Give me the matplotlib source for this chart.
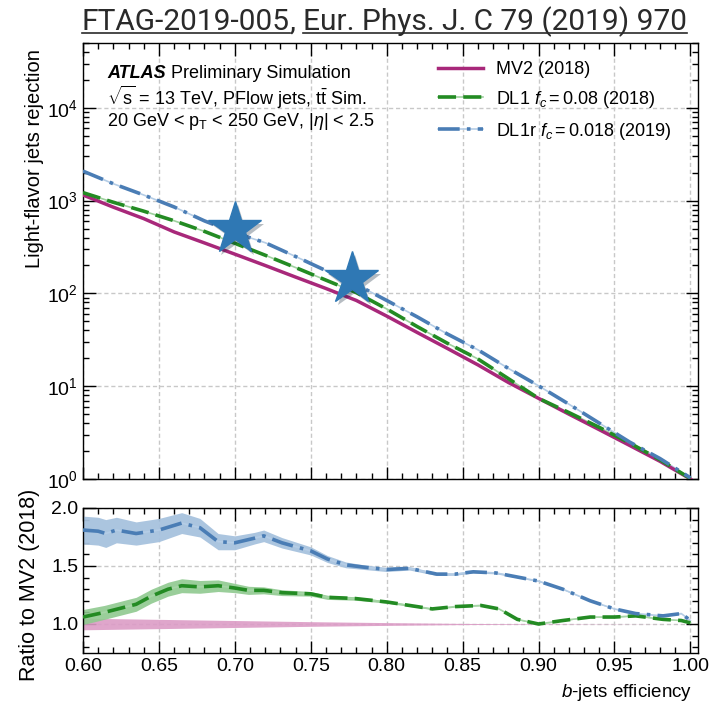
import numpy as np
import matplotlib
matplotlib.use("Agg")
import matplotlib.pyplot as plt
import matplotlib.patheffects as pe
from matplotlib import font_manager
from matplotlib.lines import Line2D
from matplotlib.transforms import IdentityTransform
from matplotlib.ticker import LogLocator, MultipleLocator, NullFormatter, FormatStrFormatter

# ---- data ----
eff_top = [0.60, 0.62, 0.64, 0.66, 0.68, 0.70, 0.72, 0.74, 0.76, 0.78, 0.80,
           0.82, 0.84, 0.86, 0.88, 0.90, 0.92, 0.94, 0.96, 0.98, 1.00]
rej_mv2 = [1150, 850, 640, 460, 350, 265, 200, 150, 113, 84, 57,
           38, 25.5, 17, 11, 7.4, 5.0, 3.4, 2.3, 1.55, 1.0]
rej_dl1 = [1220, 960, 770, 607, 466, 347, 258, 190, 139, 102, 68,
           44, 29, 19.7, 12.1, 7.4, 5.2, 3.6, 2.44, 1.61, 1.01]
rej_dl1r = [2080, 1520, 1150, 855, 605, 450, 352, 250, 176, 125, 84,
            56, 36.5, 24.7, 15.6, 10.1, 6.4, 4.0, 2.5, 1.66, 1.03]

star_eff = [0.700, 0.777]
star_rej = [500, 145]

eff_r_dl1r = [0.600, 0.610, 0.615, 0.622, 0.635, 0.650, 0.665, 0.677, 0.689, 0.700,
              0.713, 0.719, 0.731, 0.750, 0.761, 0.773, 0.785, 0.800, 0.815, 0.833,
              0.845, 0.857, 0.872, 0.884, 0.900, 0.916, 0.934, 0.950, 0.964, 0.982,
              0.994, 1.000]
ratio_dl1r = [1.81, 1.80, 1.78, 1.81, 1.78, 1.81, 1.87, 1.83, 1.71, 1.70,
              1.74, 1.76, 1.70, 1.63, 1.56, 1.51, 1.49, 1.47, 1.48, 1.43,
              1.43, 1.45, 1.44, 1.41, 1.37, 1.30, 1.20, 1.13, 1.09, 1.07,
              1.09, 1.03]
err_dl1r = [0.12, 0.12, 0.12, 0.11, 0.10, 0.10, 0.09, 0.08, 0.07, 0.06,
            0.05, 0.05, 0.045, 0.035, 0.03, 0.025, 0.02, 0.018, 0.015, 0.012,
            0.01, 0.01, 0.008, 0.006, 0.005, 0.004, 0.003, 0.003, 0.002, 0.002,
            0.002, 0.002]

eff_r_dl1 = [0.600, 0.614, 0.626, 0.635, 0.645, 0.656, 0.665, 0.677, 0.689, 0.700,
             0.709, 0.719, 0.731, 0.750, 0.761, 0.779, 0.800, 0.815, 0.830, 0.845,
             0.862, 0.874, 0.886, 0.900, 0.916, 0.934, 0.950, 0.964, 0.982, 0.994,
             1.000]
ratio_dl1 = [1.06, 1.10, 1.14, 1.17, 1.24, 1.30, 1.33, 1.32, 1.33, 1.31,
             1.29, 1.29, 1.27, 1.26, 1.23, 1.22, 1.19, 1.16, 1.13, 1.15,
             1.16, 1.13, 1.04, 1.00, 1.03, 1.06, 1.06, 1.07, 1.04, 1.03,
             1.01]
err_dl1 = [0.065, 0.06, 0.06, 0.06, 0.06, 0.06, 0.06, 0.055, 0.05, 0.04,
           0.035, 0.03, 0.025, 0.02, 0.018, 0.015, 0.01, 0.008, 0.006, 0.005,
           0.004, 0.003, 0.003, 0.002, 0.002, 0.002, 0.002, 0.002, 0.002, 0.002,
           0.002]

eff_r_mv2 = [0.60, 0.65, 0.70, 0.75, 0.80, 0.85, 0.90, 1.00]
err_mv2 = [0.05, 0.04, 0.03, 0.02, 0.012, 0.005, 0.002, 0.0]

c_mv2 = "#a8287a"
c_dl1 = "#238b23"
c_dl1r = "#4a7db5"
c_star = "#2f78b4"

plt.rcParams["font.family"] = ["Liberation Sans", "DejaVu Sans"]
plt.rcParams["mathtext.fontset"] = "custom"
plt.rcParams["mathtext.rm"] = "Liberation Sans"
plt.rcParams["mathtext.it"] = "Liberation Sans:italic"
plt.rcParams["mathtext.bf"] = "Liberation Sans:bold"

installed = {f.name for f in font_manager.fontManager.ttflist}
title_family = ["Liberation Sans Narrow"] if "Liberation Sans Narrow" in installed else ["Roboto", "Liberation Sans"]

fig = plt.figure(figsize=(7.11, 7.04), dpi=100)
ax = fig.add_axes([83/711, 1-479/704, 615/711, 436/704])
axr = fig.add_axes([83/711, 1-653/704, 615/711, 145/704], sharex=ax)

grid_kw = dict(color="#c8c8c8", linestyle=(0, (3, 2)), linewidth=1.0)

# ---- top panel ----
l_mv2, = ax.plot(eff_top, rej_mv2, color=c_mv2, lw=2.5, zorder=4)
l_dl1_bg, = ax.plot(eff_top, rej_dl1, color="#9fd19f", lw=1.2, zorder=3)
l_dl1, = ax.plot(eff_top, rej_dl1, color=c_dl1, lw=2.6, ls=(0, (5, 2)), zorder=4)
l_dl1r_bg, = ax.plot(eff_top, rej_dl1r, color="#b5cde6", lw=1.2, zorder=3)
l_dl1r, = ax.plot(eff_top, rej_dl1r, color=c_dl1r, lw=2.6, ls=(0, (6, 2, 1, 2)), zorder=4)

ax.plot(star_eff, star_rej, ls="none", marker="*", ms=40, color=c_star, zorder=6,
        path_effects=[pe.SimplePatchShadow(offset=(2, -3), alpha=0.3), pe.Normal()])

ax.set_yscale("log")
ax.set_ylim(1, 5e4)
ax.set_xlim(0.6, 1.005)
ax.yaxis.set_major_locator(LogLocator(base=10, numticks=10))
ax.yaxis.set_minor_locator(LogLocator(base=10, subs=np.arange(2, 10), numticks=20))
ax.yaxis.set_minor_formatter(NullFormatter())
ax.grid(True, which="major", **grid_kw)
ax.set_ylabel("Light-flavor jets rejection", fontsize=14.5, loc="top")
ax.yaxis.set_label_coords(-0.063, 0.985)
plt.setp(ax.get_xticklabels(), visible=False)

ax.text(0.039, 0.821, r"20 GeV < p$_\mathrm{T}$ < 250 GeV, |$\eta$| < 2.5",
        transform=ax.transAxes, fontsize=13, va="center")
ax.text(0.039, 0.876, r"$\sqrt{\mathrm{s}}$ = 13 TeV, PFlow jets, $\mathrm{t\bar{t}}$ Sim.",
        transform=ax.transAxes, fontsize=13, va="center")
t_atlas = ax.text(0.039, 0.931, "ATLAS", transform=ax.transAxes, fontsize=13, va="center",
                  fontweight="bold", fontstyle="italic")

leg = ax.legend([l_mv2, (l_dl1_bg, l_dl1), (l_dl1r_bg, l_dl1r)],
                ["MV2 (2018)", r"DL1 $f_c = 0.08$ (2018)", r"DL1r $f_c = 0.018$ (2019)"],
                loc="upper right", bbox_to_anchor=(0.977, 0.988), frameon=False, fontsize=13,
                handlelength=2.5, handletextpad=0.7, labelspacing=0.6, borderaxespad=0.3)

# ---- ratio panel ----
e1 = np.array(eff_r_mv2); h1 = np.array(err_mv2)
axr.fill_between(e1, 1 - h1, 1 + h1, color="#dc9cc6", alpha=0.9, lw=0, zorder=2)

e2 = np.array(eff_r_dl1); r2 = np.array(ratio_dl1); h2 = np.array(err_dl1)
axr.fill_between(e2, r2 - h2, r2 + h2, color="#8fc98f", alpha=0.9, lw=0, zorder=2)
axr.plot(e2, r2, color="#a5d5a5", lw=1.2, zorder=3)
axr.plot(e2, r2, color=c_dl1, lw=2.6, ls=(0, (5, 2)), zorder=4)

e3 = np.array(eff_r_dl1r); r3 = np.array(ratio_dl1r); h3 = np.array(err_dl1r)
axr.fill_between(e3, r3 - h3, r3 + h3, color="#a7c2de", alpha=0.95, lw=0, zorder=2)
axr.plot(e3, r3, color="#b5cde6", lw=1.2, zorder=3)
axr.plot(e3, r3, color=c_dl1r, lw=2.6, ls=(0, (6, 2, 1, 2)), zorder=4)

axr.set_ylim(0.75, 2.0)
axr.set_xlim(0.6, 1.005)
axr.yaxis.set_major_locator(MultipleLocator(0.5))
axr.yaxis.set_minor_locator(MultipleLocator(0.1))
axr.yaxis.set_major_formatter(FormatStrFormatter("%.1f"))
axr.grid(True, which="major", **grid_kw)
axr.set_ylabel("Ratio to MV2 (2018)", fontsize=15.5)
axr.yaxis.set_label_coords(-0.07, 0.47)
axr.set_xlabel(r"$\mathit{b}$-jets efficiency", fontsize=13.5, loc="right", labelpad=4)
axr.xaxis.set_label_coords(0.99, -0.2)

for a in (ax, axr):
    a.set_axisbelow(True)
    a.tick_params(which="both", direction="in", top=True, right=True, labelsize=14)
    a.tick_params(which="major", length=9, width=1.0)
    a.tick_params(which="minor", length=4.5, width=1.0)
    for s in a.spines.values():
        s.set_linewidth(1.0)
ax.xaxis.set_major_locator(MultipleLocator(0.05))
ax.xaxis.set_minor_locator(MultipleLocator(0.01))
axr.xaxis.set_major_formatter(FormatStrFormatter("%.2f"))

fig.canvas.draw()
renderer = fig.canvas.get_renderer()

# "Preliminary Simulation" right after the bold italic ATLAS
bb = t_atlas.get_window_extent(renderer)
x_after = ax.transAxes.inverted().transform((bb.x1, 0))[0]
ax.text(x_after, 0.931, " Preliminary Simulation", transform=ax.transAxes, fontsize=13, va="center")

# ---- title with two underlined links ----
pieces = [("FTAG-2019-005", True), (", ", False), ("Eur. Phys. J. C 79 (2019) 970", True)]
target_w = 604
fs = 22
for _ in range(2):
    probe = fig.text(0, 0, "".join(p for p, _u in pieces), fontsize=fs, family=title_family)
    w = probe.get_window_extent(renderer).width
    probe.remove()
    fs = fs * target_w / w
x_px = 82
base_px = 704 - 30
for txt, under in pieces:
    t = fig.text(x_px, base_px, txt, transform=IdentityTransform(), fontsize=fs,
                 family=title_family, va="baseline", color="#2a2a2a")
    bb = t.get_window_extent(renderer)
    if under:
        fig.add_artist(Line2D([bb.x0, bb.x1], [base_px - 3, base_px - 3], lw=1.2,
                              color="#2a2a2a", transform=IdentityTransform()))
    x_px = bb.x1

fig.savefig("out.png", dpi=100)
